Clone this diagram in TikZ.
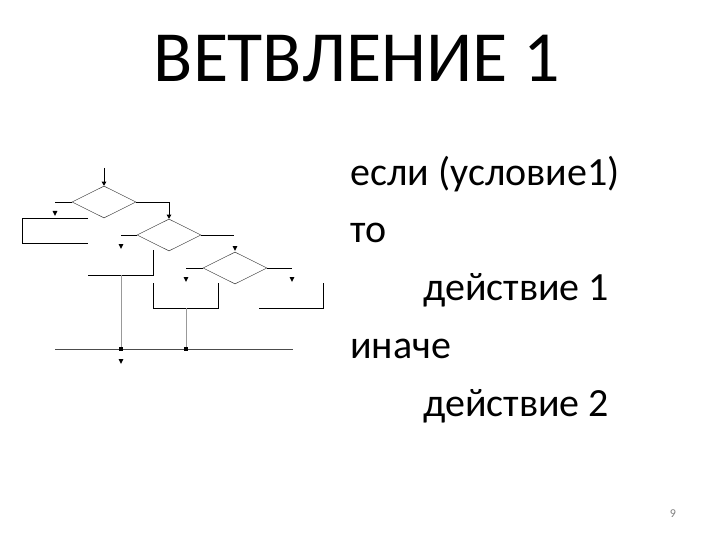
\documentclass[tikz,border=0pt]{standalone}
\usepackage{fontspec}
\setmainfont{Carlito}
\usetikzlibrary{shapes.geometric,arrows.meta}
\tikzset{
  dia/.style={shape=diamond,draw=black!75,line width=0.5pt,minimum width=64pt,minimum height=32pt,inner sep=0pt,aspect=2},
  ln/.style={draw=black,line width=0.7pt},
  gl/.style={draw=black!40,line width=0.7pt},
  tip/.style={-{Triangle[length=4pt,width=4.5pt]},line width=0.7pt},
  body/.style={anchor=base west,font=\fontsize{40}{44}\selectfont,inner sep=0pt},
}
\newcommand{\smallarrow}[2]{\fill (#1-2.4,#2-3) -- (#1+2.4,#2-3) -- (#1,#2+2) -- cycle;}
\begin{document}
\begin{tikzpicture}[x=1pt,y=-1pt]
\useasboundingbox (0,0) rectangle (720,540);
\fill[white] (0,0) rectangle (720,540);
% title
\node[anchor=base,font=\fontsize{72}{80}\selectfont,inner sep=0pt] (title) at (357,82) {ВЕТВЛЕНИЕ 1};
% body text
\node[body] (l1) at (350,186) {если (условие1)};
\node[body] (l2) at (350,242) {то};
\node[body] (l3) at (423,300) {действие 1};
\node[body] (l4) at (350,358) {иначе};
\node[body] (l5) at (423,416) {действие 2};
\node[font=\fontsize{12}{14}\selectfont,text=black!50] (pg) at (673,514) {9};
% flowchart
\node[dia] (d1) at (104,202) {};
\node[dia] (d2) at (169,235) {};
\node[dia] (d3) at (235,268) {};
\coordinate (start) at (104,168);
\coordinate (a1) at (55,202);
\coordinate (a2) at (121,235);
\coordinate (a3) at (186,268);
\coordinate (a4) at (292,268);
\coordinate (r1) at (234,235);
\draw[ln,tip] (start) -- (d1.north);
\draw[ln] (d1.west) -- (a1);
\draw[ln,tip] (d1.east) -| (d2.north);
\draw[ln] (d2.west) -- (a2);
\draw[ln] (d2.east) -- (r1);
\draw[ln] (d3.west) -- (a3);
\draw[ln] (d3.east) -- (a4);
\smallarrow{55}{214}
\smallarrow{121}{247}
\smallarrow{235}{249}
\smallarrow{186}{280}
\smallarrow{292}{280}
% blocks
\draw[ln] (88,218) -- (22,218) -- (22,243) -- (88,243);
\draw[ln] (153,250) -- (153,275) -- (88,275);
\draw[ln] (153,283) -- (153,308) -- (218,308) -- (218,283);
\draw[ln] (259,308) -- (323,308) -- (323,283);
% merge
\coordinate (m1) at (121,349);
\coordinate (m2) at (186,349);
\draw[gl] (121,275) -- (m1);
\draw[gl] (186,308) -- (m2);
\draw[draw=black!70,line width=0.6pt] (55,349) -- (293,349);
\fill (m1) ++(-1.8,-1.8) rectangle ++(3.6,3.6);
\fill (m2) ++(-1.8,-1.8) rectangle ++(3.6,3.6);
\smallarrow{121}{362}
\end{tikzpicture}
\end{document}
